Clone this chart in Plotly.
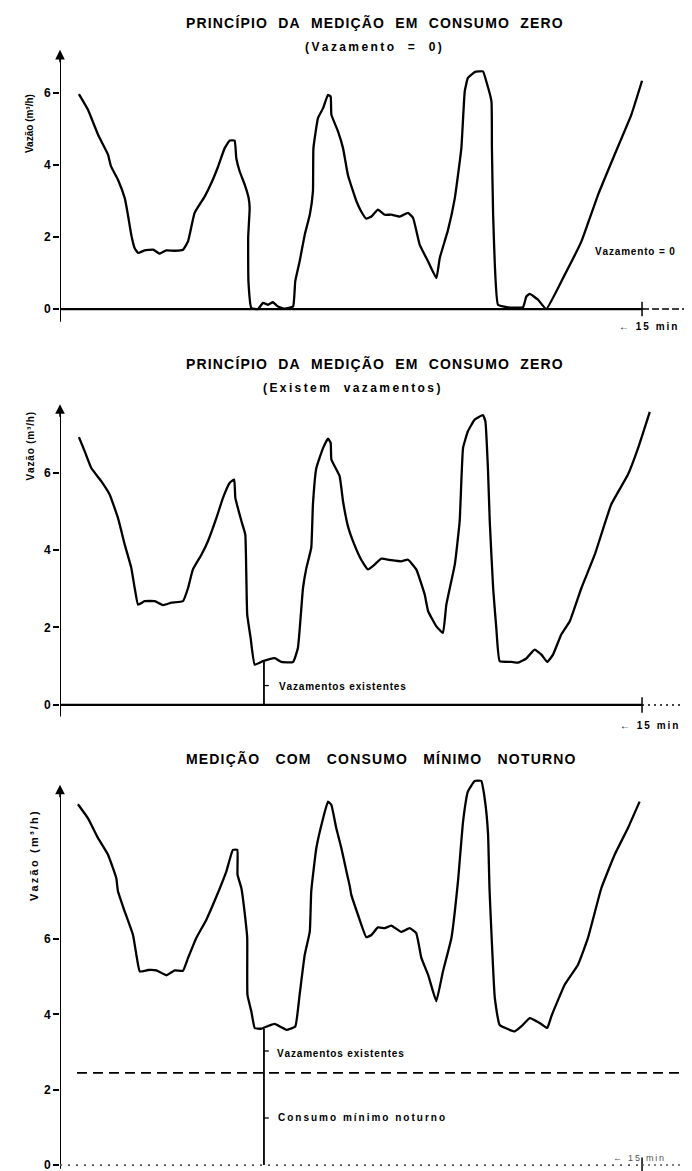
import plotly.graph_objects as go

W, H = 692, 1171
FONT = "Liberation Sans"

# ---- data (time in h, flow in m3/h) ----
t1 = [0.78,1.15,1.57,1.98,2.10,2.39,2.67,2.80,2.94,3.08,3.22,3.49,3.84,4.11,4.38,4.73,5.07,5.28,5.55,5.97,
      6.24,6.52,6.79,7.00,7.20,7.27,7.41,7.62,7.78,7.82,7.76,7.77,7.89,8.16,8.37,8.58,8.78,8.99,9.27,9.61,
      9.70,9.88,10.09,10.30,10.43,10.45,10.64,10.85,11.05,11.16,11.19,11.46,11.67,11.88,12.22,12.42,12.63,
      12.84,13.11,13.39,13.66,14.01,14.35,14.56,14.83,15.18,15.52,15.66,16.00,16.28,16.55,16.69,16.82,17.10,
      17.44,17.58,17.79,17.81,17.86,17.93,18.06,18.47,19.09,19.23,19.37,19.71,20.05,20.81,21.50,22.19,22.87,
      23.56,24.00]
v1 = [5.97,5.54,4.84,4.29,3.97,3.59,3.08,2.62,2.06,1.69,1.56,1.63,1.65,1.54,1.63,1.62,1.65,1.88,2.67,3.13,
      3.50,3.96,4.47,4.68,4.68,4.19,3.82,3.45,3.08,2.80,2.00,0.77,0.03,0.00,0.17,0.12,0.19,0.07,0.01,0.07,
      0.77,1.32,2.06,2.62,3.27,4.47,5.31,5.58,5.95,5.90,5.40,4.94,4.47,3.70,3.00,2.71,2.51,
      2.57,2.76,2.62,2.62,2.57,2.67,2.53,1.79,1.32,0.86,1.42,2.20,3.08,4.47,6.05,6.42,6.58,
      6.60,6.32,5.77,4.47,2.62,1.23,0.12,0.05,0.05,0.35,0.42,0.26,0.00,0.95,1.88,3.18,4.29,
      5.40,6.34]

t2 = [0.78,1.02,1.29,1.70,2.05,2.39,2.67,2.94,3.08,3.22,3.49,3.91,4.25,4.59,5.07,5.28,5.48,5.83,6.10,6.45,
      6.72,7.00,7.18,7.23,7.48,7.64,7.68,7.72,7.86,8.03,8.37,8.85,9.13,9.61,9.81,10.02,10.16,10.36,10.43,
      10.57,10.85,11.05,11.16,11.19,11.53,11.67,11.88,12.08,12.42,12.70,12.98,13.25,13.66,14.07,14.35,14.69,
      15.04,15.18,15.52,15.79,15.93,16.28,16.48,16.62,16.82,17.10,17.44,17.54,17.65,17.72,17.86,17.99,18.13,
      18.61,18.89,19.23,19.57,19.85,20.09,20.33,20.67,21.02,21.50,22.05,22.73,23.42,23.84,24.32]
v2 = [6.92,6.55,6.12,5.78,5.43,4.83,4.14,3.54,3.02,2.59,2.68,2.68,2.58,2.64,2.68,3.02,3.50,3.88,4.23,4.83,
      5.35,5.74,5.82,5.35,4.75,4.40,3.45,2.33,1.73,1.04,1.13,1.21,1.11,1.11,1.47,3.02,3.54,4.06,5.18,
      6.12,6.64,6.88,6.77,6.34,5.91,5.26,4.60,4.23,3.75,3.50,3.63,3.78,3.74,3.71,3.75,3.50,
      2.85,2.42,2.03,1.86,2.59,3.63,4.75,6.64,7.07,7.37,7.49,7.33,6.04,4.75,3.02,1.99,1.13,
      1.11,1.09,1.20,1.43,1.30,1.11,1.30,1.82,2.16,3.02,3.88,5.18,5.95,6.64,7.57]

t3 = [0.74,1.15,1.57,1.98,2.32,2.39,2.67,3.01,3.15,3.29,3.63,3.97,4.38,4.73,5.07,5.28,5.62,6.03,6.45,6.86,
      7.13,7.31,7.32,7.48,7.64,7.72,7.73,7.89,8.03,8.30,8.65,8.85,9.13,9.33,9.70,9.88,10.09,10.30,10.36,
      10.57,10.85,11.05,11.19,11.39,11.60,11.81,11.95,12.01,12.29,12.63,12.84,13.11,13.39,13.66,14.07,14.42,
      14.69,14.90,15.18,15.38,15.52,15.79,16.14,16.41,16.62,16.82,17.10,17.37,17.51,17.65,17.71,17.93,18.13,
      18.75,19.02,19.37,19.78,20.09,20.26,20.81,21.36,21.77,22.32,22.87,23.42,23.90]
v3 = [9.58,9.21,8.68,8.24,7.62,7.27,6.73,6.11,5.58,5.14,5.18,5.17,5.04,5.17,5.16,5.50,6.03,6.51,7.13,7.80,
      8.37,8.37,7.71,7.35,6.56,6.03,4.52,4.08,3.64,3.62,3.71,3.75,3.66,3.59,3.68,4.52,5.58,6.20,7.27,
      8.42,9.21,9.65,9.56,8.95,8.42,7.80,7.40,7.18,6.64,6.05,6.11,6.31,6.29,6.36,6.19,6.29,
      6.16,5.50,5.05,4.61,4.35,5.14,6.03,7.53,9.12,9.92,10.20,10.20,9.74,8.80,7.35,4.43,3.72,
      3.55,3.68,3.90,3.77,3.64,3.95,4.79,5.32,6.03,7.35,8.24,8.95,9.65]

y_ticks = [0, 2, 4, 6]
night_min_level = 2.45      # consumo mínimo noturno
leak_t = 8.41               # posição da cota de vazamentos
leak_top2 = 1.12
leak_top3 = 3.62
scale_t = 24.0              # marca de escala (15 min)
arrow_t = 26.2

titles = [
    ("PRINCÍPIO  DA  MEDIÇÃO  EM  CONSUMO  ZERO", "(Vazamento  =  0)"),
    ("PRINCÍPIO  DA  MEDIÇÃO  EM  CONSUMO  ZERO", "(Existem  vazamentos)"),
    ("MEDIÇÃO   COM   CONSUMO   MÍNIMO   NOTURNO", None),
]

HAIR = "\u200a"
THIN = "\u2009"

def spaced(s, sep):
    return sep.join(s)

def pyp(p):
    return 1 - p / H

fig = go.Figure()
for t, v, ax in [(t1, v1, ("x", "y")), (t2, v2, ("x2", "y2")), (t3, v3, ("x3", "y3"))]:
    fig.add_trace(go.Scatter(x=t, y=v, xaxis=ax[0], yaxis=ax[1], mode="lines",
                             line=dict(color="black", width=2.3, shape="spline", smoothing=0.35),
                             showlegend=False, hoverinfo="skip"))

XR = [0, 26.39]
xdom = [52 / W, 1.0]
xa = dict(range=XR, domain=xdom, visible=False, fixedrange=True)
def ya(dom, rng, anchor):
    return dict(domain=dom, range=rng, anchor=anchor, tickmode="array", tickvals=y_ticks,
                ticktext=[f"<b>{v}</b>" for v in y_ticks], ticks="outside", ticklen=6,
                tickwidth=1.5, tickcolor="black", showline=False, showgrid=False,
                zeroline=False, tickfont=dict(family=FONT, size=12, color="black"),
                fixedrange=True)

fig.update_layout(
    width=W, height=H, margin=dict(l=0, r=0, t=0, b=0),
    paper_bgcolor="white", plot_bgcolor="white",
    xaxis=dict(xa, anchor="y"), xaxis2=dict(xa, anchor="y2"), xaxis3=dict(xa, anchor="y3"),
    yaxis=ya([pyp(318), pyp(40)], [-0.47, 7.25], "x"),
    yaxis2=ya([pyp(712), pyp(395)], [-0.39, 7.80], "x2"),
    yaxis3=ya([pyp(1165), pyp(765)], [-0.21, 10.41], "x3"),
)

shapes = []
annots = []
blk = "black"
panels = [("x", "y", -0.35, 7.05), ("x2", "y2", -0.3, 7.62), ("x3", "y3", -0.1, 9.95)]
for i, (xr, yr, yb, yt) in enumerate(panels):
    # y axis
    shapes.append(dict(type="line", xref=xr, yref=yr, x0=0, x1=0, y0=yb, y1=yt,
                       line=dict(color=blk, width=2)))
    annots.append(dict(xref=xr, yref=yr, x=0, y=yt + 0.15, ax=0, ay=14, text="",
                       showarrow=True, arrowhead=2, arrowsize=1.2, arrowwidth=1.6,
                       arrowcolor=blk))
    # x axis
    if i < 2:
        shapes.append(dict(type="line", xref=xr, yref=yr, x0=0, x1=scale_t, y0=0, y1=0,
                           line=dict(color=blk, width=2.4)))
    else:
        shapes.append(dict(type="line", xref=xr, yref=yr, x0=0, x1=scale_t, y0=0, y1=0,
                           line=dict(color="#555", width=1.6, dash="2px,6px")))
    h = 0.2
    shapes.append(dict(type="line", xref=xr, yref=yr, x0=scale_t, x1=scale_t, y0=-h, y1=h,
                       line=dict(color=blk, width=1.5)))
    shapes.append(dict(type="line", xref=xr, yref=yr, x0=scale_t, x1=arrow_t, y0=0, y1=0,
                       line=dict(color=blk if i < 2 else "#555", width=1.5,
                                 dash="7px,3px" if i == 0 else "2px,4px")))
    if i < 2:
        annots.append(dict(xref=xr, yref=yr, x=arrow_t + 0.1, y=0, ax=-9, ay=0, text="",
                           showarrow=True, arrowhead=2, arrowsize=1, arrowwidth=1.5,
                           arrowcolor=blk))

# leak markers
shapes.append(dict(type="line", xref="x2", yref="y2", x0=leak_t, x1=leak_t, y0=0, y1=leak_top2,
                   line=dict(color=blk, width=1.8)))
shapes.append(dict(type="line", xref="x2", yref="y2", x0=leak_t, x1=leak_t + 0.2, y0=0.5, y1=0.5,
                   line=dict(color=blk, width=1.3)))
shapes.append(dict(type="line", xref="x3", yref="y3", x0=leak_t, x1=leak_t, y0=0, y1=leak_top3,
                   line=dict(color=blk, width=1.8)))
for yy in [3.03, 1.25]:
    shapes.append(dict(type="line", xref="x3", yref="y3", x0=leak_t, x1=leak_t + 0.2, y0=yy, y1=yy,
                       line=dict(color=blk, width=1.3)))
shapes.append(dict(type="line", xref="x3", yref="y3", x0=0.7, x1=arrow_t, y0=night_min_level,
                   y1=night_min_level, line=dict(color=blk, width=1.8, dash="10px,6px")))

def txt(px, pyv, s, size=10, anchor="center", color=blk, yanchor="middle"):
    annots.append(dict(xref="paper", yref="paper", x=px / W, y=pyp(pyv), text=s,
                       showarrow=False, xanchor=anchor, yanchor=yanchor,
                       font=dict(family=FONT, size=size, color=color)))

# titles
txt(366, 14, f"<b>{spaced(titles[0][0], HAIR)}</b>", 14)
txt(365, 39, f"<b>{spaced(titles[0][1], THIN)}</b>", 12)
txt(366, 355, f"<b>{spaced(titles[1][0], HAIR)}</b>", 14)
txt(343, 380, f"<b>{spaced(titles[1][1], THIN)}</b>", 12)
txt(372, 750, f"<b>{spaced(titles[2][0], HAIR)}</b>", 14)

# y axis titles
ylab = "Vazão (m³/h)"
for cx, cy, sz, sep in [(14, 84, 10, ""), (14, 438, 10, HAIR), (18, 895, 11, THIN)]:
    annots.append(dict(xref="paper", yref="paper", x=cx / W, y=pyp(cy),
                       text=f"<b>{spaced(ylab, sep)}</b>", showarrow=False, textangle=-90,
                       font=dict(family=FONT, size=sz, color=blk)))

# labels
txt(627, 243, f"<b>{spaced('Vazamento = 0', HAIR)}</b>", 10)
txt(640, 318, f"<b>{spaced('← 15 min', THIN)}</b>", 10)
txt(269, 678, f"<b>{spaced('Vazamentos existentes', HAIR)}</b>", 10, "left")
txt(641, 717, f"<b>{spaced('← 15 min', THIN)}</b>", 10)
txt(267, 1045, f"<b>{spaced('Vazamentos existentes', HAIR)}</b>", 10, "left")
txt(268, 1109, f"<b>{spaced('Consumo mínimo noturno', THIN)}</b>", 10, "left")
txt(630, 1150, spaced("← 15 min", THIN), 9, color="#555")

fig.update_layout(shapes=shapes, annotations=annots)
fig.write_html("out.html")
